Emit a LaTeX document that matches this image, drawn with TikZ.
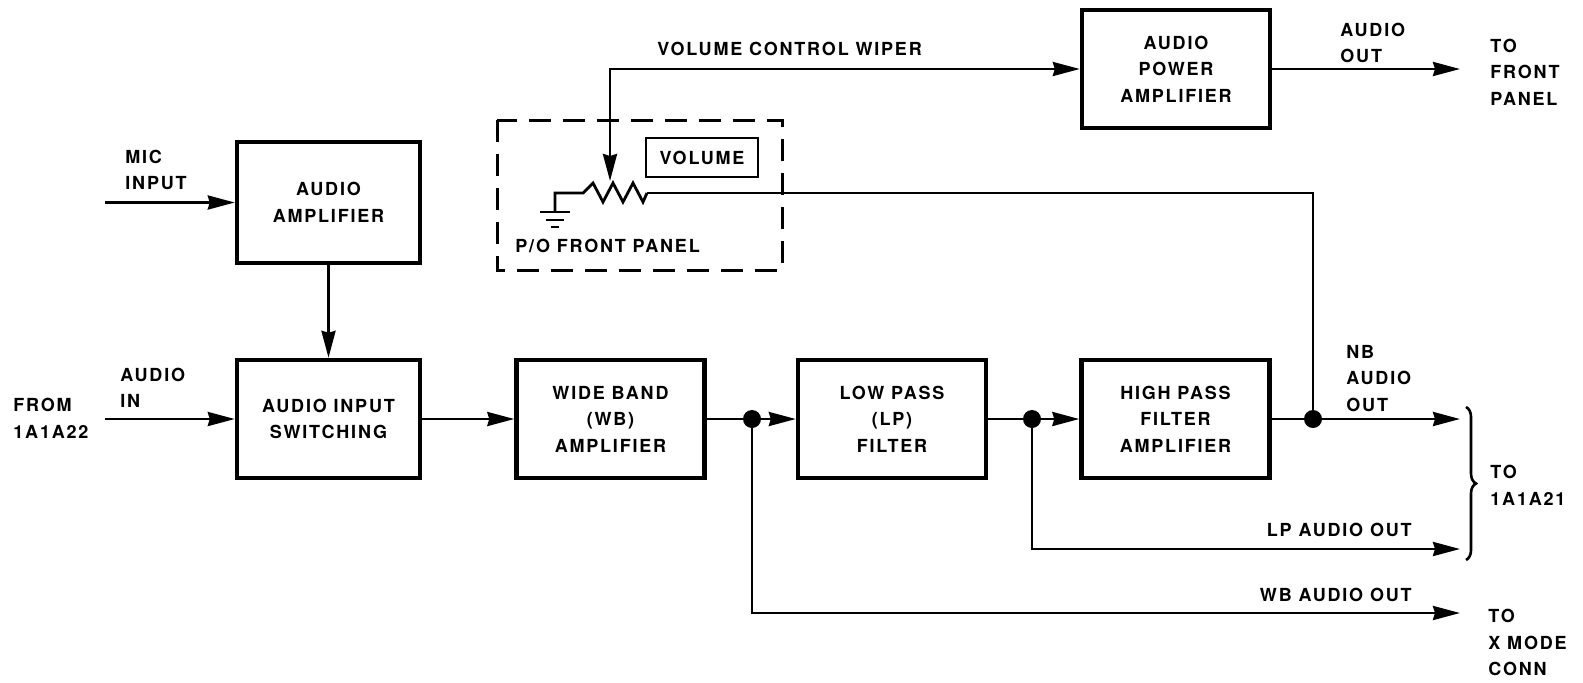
\documentclass[tikz,border=0pt]{standalone}
\usepackage{fontspec}
\newfontfamily\hv[LetterSpace=10]{TeX Gyre Heros}
\usetikzlibrary{arrows.meta, decorations.pathreplacing}
\tikzset{
  lbl/.style={inner sep=0pt, font=\hv\bfseries\fontsize{9}{13.25}\selectfont},
  blk/.style={lbl, draw, line width=2.2pt, minimum width=94pt, minimum height=59pt, align=center},
  conn/.style={line width=1.4pt},
  tip/.tip={Stealth[length=13.5pt,width=7pt,inset=1pt]},
  arr/.style={conn, -tip},
  dot/.style={circle, fill, inner sep=0pt, minimum size=9pt},
}
\begin{document}
\begin{tikzpicture}[x=0.5pt, y=-0.5pt]
\useasboundingbox (0,0) rectangle (1583,682);

% blocks
\node[blk, minimum width=91.5pt, minimum height=60.5pt] (aamp) at (328.5,202.5) {AUDIO\\AMPLIFIER};
\node[blk, minimum width=91.5pt] (ais) at (328.5,419) {AUDIO INPUT\\SWITCHING};
\node[blk] (wb) at (610.5,419) {WIDE BAND\\(WB)\\AMPLIFIER};
\node[blk] (lp) at (892,419) {LOW PASS\\(LP)\\FILTER};
\node[blk] (hpf) at (1175.5,419) {HIGH PASS\\FILTER\\AMPLIFIER};
\node[blk] (apa) at (1176,69) {AUDIO\\POWER\\AMPLIFIER};

% junctions and free ends
\coordinate (micin) at (105,202.5);
\coordinate (ain) at (105,419);
\node[dot] (d1) at (752,419) {};
\node[dot] (d2) at (1032,419) {};
\node[dot] (d3) at (1313,419) {};
\coordinate (nbout) at (1460,419);
\coordinate (lpout) at (1460,549);
\coordinate (wbout) at (1460,613);
\coordinate (fpout) at (1460,69);

% signal connectors
\draw[arr] (micin) -- (aamp.west);
\draw[arr] (ain) -- (ais.west);
\draw[arr] (aamp.south) -- (ais.north);
\draw[arr] (ais.east) -- (wb.west);
\draw[conn] (wb.east) -- (d1.center);
\draw[arr] (d1.center) -- (lp.west);
\draw[conn] (lp.east) -- (d2.center);
\draw[arr] (d2.center) -- (hpf.west);
\draw[arr] (hpf.east) -- (nbout);
\draw[arr] (d2.center) |- (lpout);
\draw[arr] (d1.center) |- (wbout);
\draw[arr] (apa.east) -- (fpout);

% front panel volume control
\draw[line width=1.5pt, dash pattern=on 11pt off 6pt] (497,120) rectangle (782,270);
\node[lbl, draw, line width=1pt, minimum width=56pt, minimum height=19.5pt] (vol) at (702,157.5) {VOLUME};
\coordinate (gnd) at (555,212);
\coordinate (r1) at (583,193);
\coordinate (r2) at (647,193);
\coordinate (wtip) at (610,181);
\draw[conn, line join=miter] (gnd) |- (r1) -- (593,183) -- (603,202) -- (613,183) -- (623,202) -- (633,183) -- (643,202) -- (r2);
\draw[conn] (540,212) -- (570,212) (546,220) -- (564,220) (551,227) -- (559,227);
\draw[conn] (r2) -| (d3.center);
\draw[conn, tip-tip] (wtip) |- (apa.west);

% brace
\coordinate (brt) at (1466,407);
\coordinate (brb) at (1466,560);
\draw[line width=1.3pt, decorate, decoration={brace, amplitude=5pt}] (brt) -- (brb);

% labels
\node[lbl, anchor=west] (lvcw) at (657,49) {VOLUME CONTROL WIPER};
\node[lbl, anchor=west, align=left] (lmic) at (125,170) {MIC\\INPUT};
\node[lbl, anchor=west, align=left] (lain) at (120,388) {AUDIO\\IN};
\node[lbl, anchor=west, align=left] (lfrom) at (13,418.5) {FROM\\1A1A22};
\node[lbl, anchor=west, align=left] (laout) at (1340,43) {AUDIO\\OUT};
\node[lbl, anchor=west, align=left] (ltofp) at (1490,72) {TO\\FRONT\\PANEL};
\node[lbl, anchor=west] (lpo) at (515,246) {P/O FRONT PANEL};
\node[lbl, anchor=west, align=left] (lnb) at (1346,378.5) {NB\\AUDIO\\OUT};
\node[lbl, anchor=east] (llp) at (1412,530) {LP AUDIO OUT};
\node[lbl, anchor=east] (lwb) at (1412,595) {WB AUDIO OUT};
\node[lbl, anchor=west, align=left] (lto21) at (1490,485.5) {TO\\1A1A21};
\node[lbl, anchor=west, align=left] (ltox) at (1488,642.5) {TO\\X MODE\\CONN};
\end{tikzpicture}
\end{document}
